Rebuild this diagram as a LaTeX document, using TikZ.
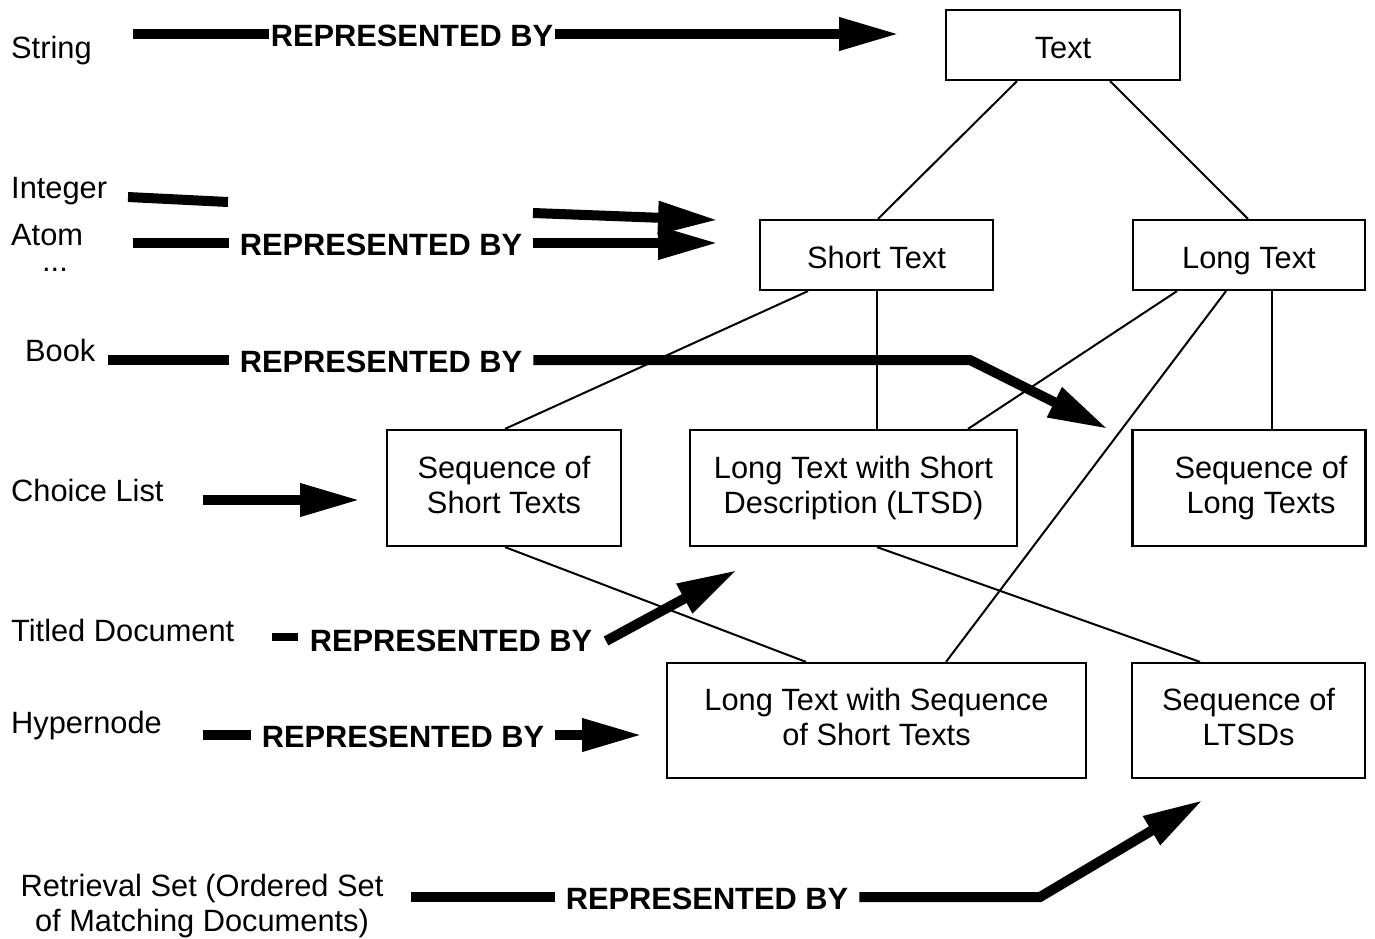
\documentclass[tikz,border=0pt]{standalone}
\usepackage{fontspec}
\setmainfont{Liberation Sans}
\usetikzlibrary{arrows.meta}
\begin{document}
\begin{tikzpicture}[x=1pt,y=-1pt,
  every node/.style={font=\fontsize{30.8}{35}\selectfont},
  box/.style={draw, line width=2.2pt, inner sep=0pt, align=center, text depth=7pt},
  onebox/.style={box, text height=33pt, minimum height=70pt},
  lbl/.style={anchor=base west, inner sep=0pt},
  rep/.style={font=\fontsize{30.8}{35}\selectfont\bfseries, inner xsep=11pt, inner ysep=0pt},
  fat/.style={line width=10pt},
  fatarrow/.style={line width=10pt, -{Triangle[length=60pt,width=31pt]}},
  link/.style={line width=2pt}]
\useasboundingbox[fill=white] (0,0) rectangle (1375,938);

% hierarchy of text types
\node[onebox, minimum width=234pt] (text) at (1063,45) {Text};
\node[onebox, minimum width=233pt] (short) at (876.5,255) {Short Text};
\node[onebox, minimum width=232pt] (long) at (1249,255) {Long Text};
\node[box, minimum width=234pt, minimum height=116pt] (seqs) at (504,488) {Sequence of\\Short Texts};
\node[box, minimum width=327pt, minimum height=116pt] (ltsd) at (853.5,488) {Long Text with Short\\Description (LTSD)};
\node[box, minimum width=233pt, minimum height=116pt] (seql) at (1249,488) {\hspace*{24pt}Sequence of\\\hspace*{24pt}Long Texts};
\node[box, minimum width=419pt, minimum height=115pt] (ltws) at (876.5,720.5) {Long Text with Sequence\\of Short Texts};
\node[box, minimum width=233pt, minimum height=115pt] (seqltsd) at (1248.5,720.5) {Sequence of\\LTSDs};

\draw[link] ([xshift=-46pt]text.south) -- ([xshift=1.5pt]short.north);
\draw[link] ([xshift=47pt]text.south) -- ([xshift=-1pt]long.north);
\draw[link] ([xshift=-68.5pt]short.south) -- ([xshift=1pt]seqs.north);
\draw[link] ([xshift=0.5pt]short.south) -- ([xshift=23.5pt]ltsd.north);
\draw[link] ([xshift=-72pt]long.south) -- ([xshift=114.5pt]ltsd.north);
\draw[link] ([xshift=-23pt]long.south) -- ([xshift=69.5pt]ltws.north);
\draw[link] ([xshift=23pt]long.south) -- ([xshift=23pt]seql.north);
\draw[link] ([xshift=1pt]seqs.south) -- ([xshift=-70.5pt]ltws.north);
\draw[link] ([xshift=23.5pt]ltsd.south) -- ([xshift=-48.5pt]seqltsd.north);

% concepts on the left
\node[lbl] (string) at (11,58) {String};
\node[lbl] (integer) at (11,198) {Integer};
\node[lbl] (atom) at (11,245) {Atom};
\node[anchor=base, inner sep=0pt] (more) at (55,271) {...};
\node[lbl] (book) at (25,361) {Book};
\node[lbl] (choice) at (11,501) {Choice List};
\node[lbl] (titled) at (11,641) {Titled Document};
\node[lbl] (hyper) at (11,733) {Hypernode};
\node[align=center, inner sep=0pt, anchor=base] (retr) at (202,931) {Retrieval Set (Ordered Set\\of Matching Documents)};

% "represented by" arrows
\coordinate (s0) at (133,34);
\coordinate (s1) at (899,34);
\node[rep, inner xsep=2pt] (strl) at (412,36) {REPRESENTED BY};
\draw[fat] (s0) -- (strl.west |- s0);
\draw[fatarrow] (strl.east |- s0) -- (s1);

\coordinate (i0) at (128,197);
\coordinate (i1) at (228,202);
\coordinate (a0) at (133,243);
\node[rep] (atl) at (381,245) {REPRESENTED BY};
\coordinate (i2) at (533,213);
\coordinate (i3) at (718,220);
\coordinate (a1) at (718,243);
\draw[fat] (i0) -- (i1);
\draw[fat] (a0) -- (atl.west |- a0);
\draw[fatarrow] (i2) -- (i3);
\draw[fatarrow] (atl.east |- a0) -- (a1);

\coordinate (b0) at (108,360);
\coordinate (b1) at (970,360);
\coordinate (b2) at (1108,429);
\node[rep] (bkl) at (381,362) {REPRESENTED BY};
\draw[fat] (b0) -- (bkl.west |- b0);
\draw[fatarrow] (bkl.east |- b0) -- (b1) -- (b2);

\coordinate (c0) at (203,500);
\coordinate (c1) at (360,500);
\draw[fatarrow] (c0) -- (c1);

\coordinate (t0) at (272,637);
\node[rep, inner xsep=12pt] (tdl) at (451,641) {REPRESENTED BY};
\coordinate (t1) at (606,641);
\coordinate (t2) at (737,570);
\draw[line width=8pt] (t0) -- (tdl.west |- t0);
\draw[fatarrow] (t1) -- (t2);

\coordinate (h0) at (203,735);
\coordinate (h1) at (642,735);
\node[rep] (hyl) at (403,737) {REPRESENTED BY};
\draw[fat] (h0) -- (hyl.west |- h0);
\draw[fatarrow] (hyl.east |- h0) -- (h1);

\coordinate (r0) at (411,897);
\coordinate (r1) at (1040,897);
\coordinate (r2) at (1203,800);
\node[rep] (rtl) at (707,899) {REPRESENTED BY};
\draw[fat] (r0) -- (rtl.west |- r0);
\draw[fatarrow] (rtl.east |- r0) -- (r1) -- (r2);
\end{tikzpicture}
\end{document}
